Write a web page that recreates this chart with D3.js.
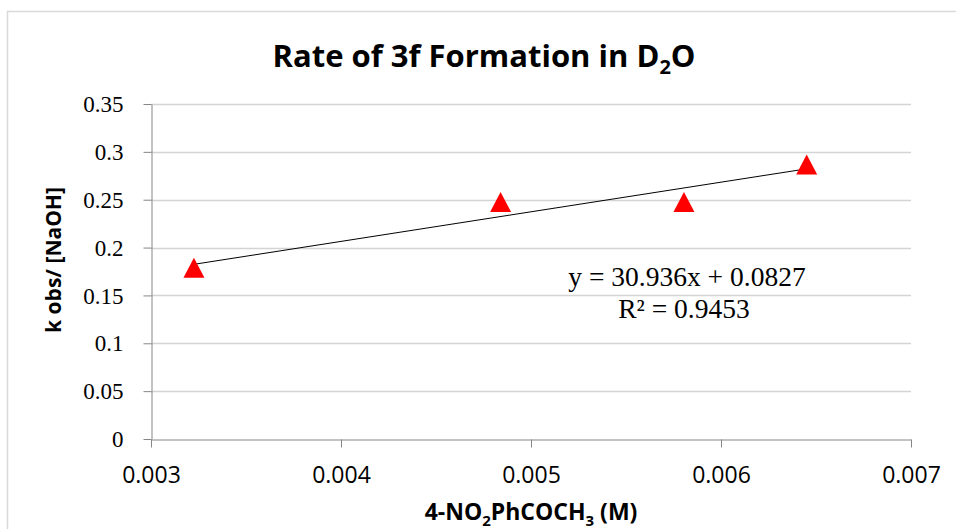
<!DOCTYPE html>
<html>
<head>
<meta charset="utf-8">
<script src="https://cdnjs.cloudflare.com/ajax/libs/d3/7.8.5/d3.min.js"></script>
<style>
  html, body { margin: 0; padding: 0; background: #ffffff; }
  svg { display: block; }
</style>
</head>
<body>
<svg id="chart" width="956" height="529"></svg>
<script>
// Measured concentrations (M) and normalised rate constants
const concentrations = [0.003226, 0.00484, 0.005805, 0.006451];
const kObsPerNaOH = [0.179, 0.2476, 0.2476, 0.2868];

// Linear trendline as reported on the chart
const trendSlope = 30.936;
const trendIntercept = 0.0827;
const trendR2 = 0.9453;

const xTicks = [0.003, 0.004, 0.005, 0.006, 0.007];
const yTicks = [0, 0.05, 0.1, 0.15, 0.2, 0.25, 0.3, 0.35];

const svg = d3.select("#chart");
const W = 956, H = 529;
const plot = { left: 151, right: 911, top: 104, bottom: 439 };

const x = d3.scaleLinear().domain([0.003, 0.007]).range([plot.left, plot.right]);
const y = d3.scaleLinear().domain([0, 0.35]).range([plot.bottom, plot.top]);

const sans = "'Open Sans', 'Liberation Sans', sans-serif";
const serif = "'Liberation Serif', 'Times New Roman', serif";

// Outer chart frame
svg.append("rect")
  .attr("x", 7.5).attr("y", 11.5)
  .attr("width", W + 10).attr("height", H + 10)
  .attr("fill", "#ffffff").attr("stroke", "#d9d9d9").attr("stroke-width", 1.5);

// Horizontal gridlines
svg.append("g")
  .selectAll("line")
  .data(yTicks.filter(d => d > 0))
  .join("line")
  .attr("x1", plot.left).attr("x2", plot.right)
  .attr("y1", d => Math.round(y(d)) + 0.5).attr("y2", d => Math.round(y(d)) + 0.5)
  .attr("stroke", "#d4d4d4").attr("stroke-width", 1.5);

// Y axis
const yAxis = svg.append("g")
  .attr("transform", `translate(${plot.left + 0.5},0)`)
  .call(d3.axisLeft(y).tickValues(yTicks).tickSize(8).tickSizeOuter(0)
    .tickFormat(d => String(+d.toFixed(2))));
yAxis.select(".domain").attr("stroke", "#868686");
yAxis.selectAll(".tick line").attr("stroke", "#868686");
yAxis.selectAll(".tick text")
  .attr("x", -28)
  .attr("dy", "0.33em")
  .attr("font-family", serif)
  .attr("font-size", 23)
  .attr("fill", "#000");

// X axis
const xAxis = svg.append("g")
  .attr("transform", `translate(0,${plot.bottom + 0.5})`)
  .call(d3.axisBottom(x).tickValues(xTicks).tickSize(8).tickSizeOuter(0)
    .tickFormat(d3.format(".3f")));
xAxis.select(".domain").attr("stroke", "#868686");
xAxis.selectAll(".tick line").attr("stroke", "#868686");
xAxis.selectAll(".tick text")
  .attr("y", 43)
  .attr("dy", 0)
  .attr("font-family", sans)
  .attr("font-size", 23)
  .attr("fill", "#000");

// Trendline across the measured range
const xMin = d3.min(concentrations), xMax = d3.max(concentrations);
svg.append("line")
  .attr("x1", x(xMin)).attr("y1", y(trendSlope * xMin + trendIntercept))
  .attr("x2", x(xMax)).attr("y2", y(trendSlope * xMax + trendIntercept))
  .attr("stroke", "#000").attr("stroke-width", 1);

// Triangle markers
const tri = (cx, cy) => {
  const hw = 10.5, hh = 10;
  return `M${cx},${cy - hh}L${cx + hw},${cy + hh}L${cx - hw},${cy + hh}Z`;
};
svg.append("g")
  .selectAll("path")
  .data(concentrations.map((c, i) => [c, kObsPerNaOH[i]]))
  .join("path")
  .attr("d", d => tri(x(d[0]), y(d[1])))
  .attr("fill", "#ff0000");

// Trendline equation
const eq = svg.append("g")
  .attr("font-family", serif)
  .attr("font-size", 27.5)
  .attr("fill", "#000")
  .attr("text-anchor", "middle");
eq.append("text").attr("x", 687).attr("y", 286)
  .text(`y = ${trendSlope}x + ${trendIntercept}`);
eq.append("text").attr("x", 684).attr("y", 318)
  .text(`R² = ${trendR2}`);

// Title
const title = svg.append("text")
  .attr("x", 484).attr("y", 67)
  .attr("text-anchor", "middle")
  .attr("font-family", sans)
  .attr("font-weight", "bold")
  .attr("font-size", 31)
  .attr("fill", "#000");
title.append("tspan").text("Rate of 3f Formation in D");
title.append("tspan").attr("dy", 7).attr("font-size", 20).text("2");
title.append("tspan").attr("dy", -7).text("O");

// Y axis title
svg.append("text")
  .attr("transform", "translate(61,260) rotate(-90)")
  .attr("text-anchor", "middle")
  .attr("font-family", sans)
  .attr("font-weight", "bold")
  .attr("font-size", 21)
  .attr("fill", "#000")
  .text("k obs/ [NaOH]");

// X axis title
const xt = svg.append("text")
  .attr("x", 531).attr("y", 520)
  .attr("text-anchor", "middle")
  .attr("font-family", sans)
  .attr("font-weight", "bold")
  .attr("font-size", 23)
  .attr("fill", "#000");
xt.append("tspan").text("4-NO");
xt.append("tspan").attr("dy", 6).attr("font-size", 15).text("2");
xt.append("tspan").attr("dy", -6).text("PhCOCH");
xt.append("tspan").attr("dy", 6).attr("font-size", 15).text("3");
xt.append("tspan").attr("dy", -6).text(" (M)");
</script>
</body>
</html>
